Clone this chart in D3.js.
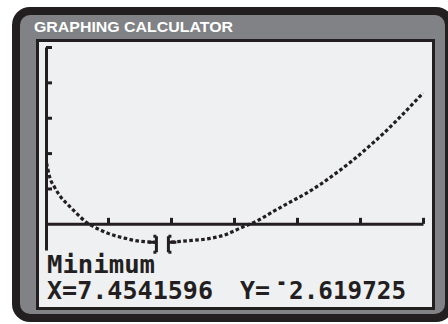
<!DOCTYPE html>
<html><head><meta charset="utf-8">
<script src="https://cdn.jsdelivr.net/npm/d3@7"></script>
<style>html,body{margin:0;padding:0;background:#fff;}svg{display:block;}</style>
</head><body>
<script>
const title = "GRAPHING CALCULATOR";
const curveX = [0.1, 0.3, 0.6, 1, 1.5, 2, 2.6, 3, 3.5, 4, 5, 6, 7.454, 9, 10.5, 11.5, 12.4, 13.5, 14.5, 15.5, 16.5, 17.5, 18.5, 19.5, 20.5, 21.5, 22.5, 24];
const curveY = [8.6, 6.6, 5.2, 3.8, 2.6, 1.5, 0.25, -0.3, -0.85, -1.35, -2.0, -2.45, -2.62, -2.4, -2.05, -1.5, -0.6, 0.45, 1.75, 3.0, 4.2, 5.6, 7.2, 8.9, 10.8, 12.8, 15.0, 18.5];
const xTicks = [4, 8, 12, 16, 20, 24];
const yTicks = [5, 10, 15, 20, 25];
const xWindow = [0, 24];
const yWindow = [-3.7, 25];
const minPoint = {x: 7.4541596, y: -2.619725};
const label1 = "Minimum";
const labelX = "X=7.4541596";
const labelYPrefix = "Y=";
const labelYNeg = "-";
const labelYVal = "2.619725";

const W = 448, H = 324;
const ink = "#231f20", gray = "#808285", screenBg = "#eff0f2";

const svg = d3.select("body").append("svg").attr("width", W).attr("height", H);

// calculator frame
svg.append("rect").attr("x", 12).attr("y", 7).attr("width", 442).attr("height", 315).attr("rx", 18).attr("fill", ink);
svg.append("rect").attr("x", 20).attr("y", 15).attr("width", 425).attr("height", 299).attr("rx", 10).attr("fill", gray);
svg.append("text").attr("x", 34).attr("y", 32).text(title)
  .attr("font-family", "Liberation Sans, Arial, sans-serif").attr("font-weight", "bold")
  .attr("font-size", 15.5).attr("fill", "#ffffff").attr("textLength", 199).attr("lengthAdjust", "spacingAndGlyphs");

// screen
svg.append("rect").attr("x", 37.5).attr("y", 40.5).attr("width", 396).attr("height", 268)
  .attr("fill", screenBg).attr("stroke", ink).attr("stroke-width", 3);

const x = d3.scaleLinear().domain(xWindow).range([45, 423]);
const y = d3.scaleLinear().domain(yWindow).range([250, 47]);

// axes
const gx = svg.append("g").attr("transform", `translate(0,${y(0)})`)
  .call(d3.axisTop(x).tickValues(xTicks).tickSize(6).tickSizeOuter(0).tickFormat(""));
const gy = svg.append("g").attr("transform", `translate(${x(0)+1},0)`)
  .call(d3.axisRight(y).tickValues(yTicks).tickSize(6).tickSizeOuter(0).tickFormat(""));
[gx, gy].forEach(g => {
  g.select(".domain").attr("stroke", ink).attr("stroke-width", 3);
  g.selectAll(".tick line").attr("stroke", ink).attr("stroke-width", 3);
});

// curve
const pts = curveX.map((v, i) => [v, curveY[i]]);
const line = d3.line().x(d => x(d[0])).y(d => y(d[1])).curve(d3.curveMonotoneX);
svg.append("path").attr("d", line(pts)).attr("fill", "none").attr("stroke", ink)
  .attr("stroke-width", 3.2).attr("stroke-dasharray", "3.6 2.4");

// cursor at the minimum
const cx = x(minPoint.x), cy = y(minPoint.y);
svg.append("rect").attr("x", cx - 5).attr("y", cy - 4).attr("width", 10).attr("height", 8).attr("fill", screenBg);
const cur = svg.append("g").attr("stroke", ink).attr("stroke-width", 3).attr("fill", "none");
cur.append("path").attr("d", `M${cx-14},${cy} H${cx-6} M${cx-6},${cy-6} V${cy+10} M${cx-9},${cy-6} H${cx-6} M${cx-9},${cy+10} H${cx-6}`);
cur.append("path").attr("d", `M${cx+14},${cy} H${cx+6} M${cx+6},${cy-6} V${cy+10} M${cx+9},${cy-6} H${cx+6} M${cx+9},${cy+10} H${cx+6}`);

// screen text
const tf = t => t.attr("font-family", "DejaVu Sans Mono, monospace").attr("font-weight", "bold")
  .attr("font-size", 24).attr("fill", ink).attr("lengthAdjust", "spacingAndGlyphs");
tf(svg.append("text").attr("x", 47).attr("y", 273).text(label1).attr("textLength", 108));
tf(svg.append("text").attr("x", 47).attr("y", 299).text(labelX).attr("textLength", 166));
tf(svg.append("text").attr("x", 240).attr("y", 299).text(labelYPrefix).attr("textLength", 30));
tf(svg.append("text").attr("x", 276).attr("y", 290).text(labelYNeg).attr("textLength", 11));
tf(svg.append("text").attr("x", 289).attr("y", 299).text(labelYVal).attr("textLength", 117));
</script>
</body></html>
